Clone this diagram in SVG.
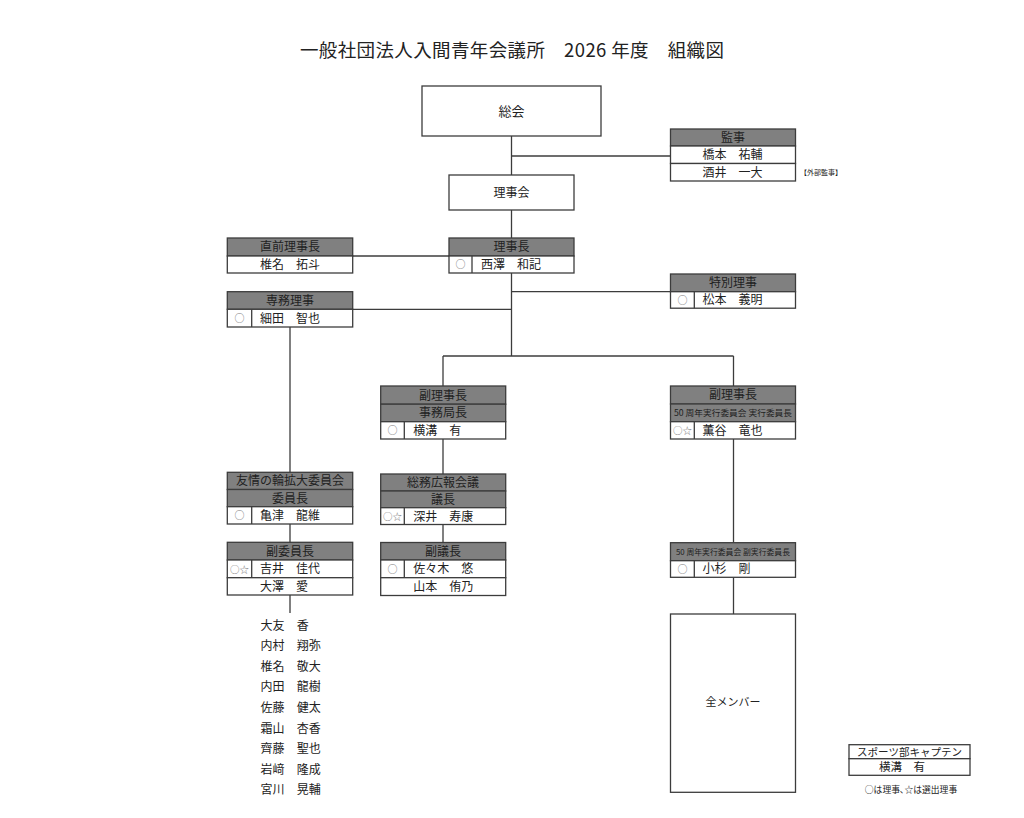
<svg xmlns="http://www.w3.org/2000/svg" width="1024" height="818" viewBox="0 0 1024 818">
<style>
.bg{fill:#fff}
.b{fill:#fff;stroke:#3c3c3c;stroke-width:1.3}
.h{fill:#808080;stroke:#3c3c3c;stroke-width:1.3}
.d{stroke:#3c3c3c;stroke-width:1.3;fill:none}
.t{font-family:"Noto Sans CJK JP","Noto Sans",sans-serif;font-size:12px;fill:#222;text-anchor:middle}
.n{font-family:"Noto Sans CJK JP","Noto Sans",sans-serif;font-size:12px;fill:#222;text-anchor:start}
.m{font-family:"Noto Sans CJK JP","Noto Sans",sans-serif;font-size:10px;fill:#777;text-anchor:middle}
.s{font-family:"Noto Sans CJK JP","Noto Sans",sans-serif;font-size:8.5px;fill:#222;text-anchor:middle}
#connectors line{stroke:#3c3c3c;stroke-width:1.3}
</style>
<rect class="bg" x="0" y="0" width="1024" height="818"/>
<text x="512" y="57" class="t" style="font-size:18.5px" textLength="424" lengthAdjust="spacing">一般社団法人入間青年会議所　2026 年度　組織図</text>

<g id="connectors">
<line x1="511.5" y1="136" x2="511.5" y2="175"/>
<line x1="511.5" y1="156" x2="670.5" y2="156"/>
<line x1="511.5" y1="210" x2="511.5" y2="238"/>
<line x1="352.7" y1="256" x2="449" y2="256"/>
<line x1="511.5" y1="273" x2="511.5" y2="356"/>
<line x1="511.5" y1="291.7" x2="670.5" y2="291.7"/>
<line x1="352.7" y1="309.3" x2="511.5" y2="309.3"/>
<line x1="443" y1="356" x2="733.5" y2="356"/>
<line x1="443" y1="356" x2="443" y2="386"/>
<line x1="733.5" y1="356" x2="733.5" y2="386"/>
<line x1="290" y1="327" x2="290" y2="472.3"/>
<line x1="443" y1="439" x2="443" y2="474"/>
<line x1="443" y1="524.5" x2="443" y2="542.5"/>
<line x1="733.5" y1="439" x2="733.5" y2="542.7"/>
<line x1="733.5" y1="577.3" x2="733.5" y2="614"/>
<line x1="290" y1="524" x2="290" y2="542.3"/>
<line x1="290" y1="595" x2="290" y2="613"/>
</g>

<g id="soukai">
<rect class="b" x="422" y="86" width="179" height="50"/>
<text class="t" x="511.5" y="115.5" style="font-size:13px">総会</text>
</g>

<g id="rijikai">
<rect class="b" x="449" y="175" width="125" height="35"/>
<text class="t" x="511.5" y="197">理事会</text>
</g>

<g id="kanji">
<rect class="h" x="670.5" y="129" width="125" height="17"/>
<rect class="b" x="670.5" y="146" width="125" height="17.5"/>
<rect class="b" x="670.5" y="163.5" width="125" height="17.5"/>
<text class="t" x="733" y="142">監事</text>
<text class="n" x="702.5" y="159">橋本　祐輔</text>
<text class="n" x="702.5" y="176.5">酒井　一大</text>
<text class="t" x="800" y="174.5" style="font-size:7px;text-anchor:start">【外部監事】</text>
</g>

<g id="chokuzen">
<rect class="h" x="227.3" y="238" width="125.4" height="18"/>
<rect class="b" x="227.3" y="256" width="125.4" height="17"/>
<text class="t" x="290" y="251.3">直前理事長</text>
<text class="n" x="260" y="268.8">椎名　拓斗</text>
</g>

<g id="rijicho">
<rect class="h" x="449" y="238" width="125" height="18"/>
<rect class="b" x="449" y="256" width="125" height="17"/>
<line class="d" x1="472" y1="256" x2="472" y2="273"/>
<text class="t" x="511.5" y="251.3">理事長</text>
<text class="m" x="460.5" y="268">○</text>
<text class="n" x="481" y="268.8">西澤　和記</text>
</g>

<g id="tokubetsu">
<rect class="h" x="670.5" y="274" width="125" height="17.7"/>
<rect class="b" x="670.5" y="291.7" width="125" height="16.5"/>
<line class="d" x1="694.3" y1="291.7" x2="694.3" y2="308.2"/>
<text class="t" x="733" y="287.2">特別理事</text>
<text class="m" x="682.4" y="303.5">○</text>
<text class="n" x="702.5" y="304.3">松本　義明</text>
</g>

<g id="senmu">
<rect class="h" x="227.3" y="291.7" width="125.4" height="17.6"/>
<rect class="b" x="227.3" y="309.3" width="125.4" height="17.7"/>
<line class="d" x1="251.7" y1="309.3" x2="251.7" y2="327"/>
<text class="t" x="290" y="304.8">専務理事</text>
<text class="m" x="239.5" y="321.8">○</text>
<text class="n" x="260" y="322.5">細田　智也</text>
</g>

<g id="fukurijicho1">
<rect class="h" x="380.7" y="386" width="125" height="18.2"/>
<rect class="h" x="380.7" y="404.2" width="125" height="17.5"/>
<rect class="b" x="380.7" y="421.7" width="125" height="17.3"/>
<line class="d" x1="404.3" y1="421.7" x2="404.3" y2="439"/>
<text class="t" x="443" y="399.5">副理事長</text>
<text class="t" x="443" y="417.3">事務局長</text>
<text class="m" x="392.5" y="434">○</text>
<text class="n" x="413.3" y="434.7">横溝　有</text>
</g>

<g id="soumu">
<rect class="h" x="380.7" y="474" width="125" height="17"/>
<rect class="h" x="380.7" y="491" width="125" height="16.7"/>
<rect class="b" x="380.7" y="507.7" width="125" height="16.8"/>
<line class="d" x1="404.3" y1="507.7" x2="404.3" y2="524.5"/>
<text class="t" x="443" y="486.8">総務広報会議</text>
<text class="t" x="443" y="503.7">議長</text>
<text class="m" x="392.5" y="520" style="font-size:9.5px">○☆</text>
<text class="n" x="413.3" y="520.5">深井　寿康</text>
</g>

<g id="fukugicho">
<rect class="h" x="380.7" y="542.5" width="125" height="17.5"/>
<rect class="b" x="380.7" y="560" width="125" height="17.7"/>
<rect class="b" x="380.7" y="577.7" width="125" height="17.8"/>
<line class="d" x1="404.3" y1="560" x2="404.3" y2="577.7"/>
<text class="t" x="443" y="555.6">副議長</text>
<text class="m" x="392.5" y="572.5">○</text>
<text class="n" x="413.3" y="573.2">佐々木　悠</text>
<text class="n" x="413.3" y="591">山本　侑乃</text>
</g>

<g id="fukurijicho2">
<rect class="h" x="670.5" y="386" width="125" height="18"/>
<rect class="h" x="670.5" y="404" width="125" height="17.7"/>
<rect class="b" x="670.5" y="421.7" width="125" height="17.3"/>
<line class="d" x1="694.3" y1="421.7" x2="694.3" y2="439"/>
<text class="t" x="733" y="399.4">副理事長</text>
<text class="s" x="733" y="416" textLength="118" lengthAdjust="spacingAndGlyphs">50 周年実行委員会 実行委員長</text>
<text class="m" x="682.4" y="434" style="font-size:9.5px">○☆</text>
<text class="n" x="702.5" y="434.7">薫谷　竜也</text>
</g>

<g id="fukujikko">
<rect class="h" x="670.5" y="542.7" width="125" height="18"/>
<rect class="b" x="670.5" y="560.7" width="125" height="16.6"/>
<line class="d" x1="694.3" y1="560.7" x2="694.3" y2="577.3"/>
<text class="s" x="733" y="554.8" style="font-size:8px" textLength="114" lengthAdjust="spacingAndGlyphs">50 周年実行委員会 副実行委員長</text>
<text class="m" x="682.4" y="572.5">○</text>
<text class="n" x="702.5" y="573.3">小杉　剛</text>
</g>

<g id="zenmember">
<rect class="b" x="670.5" y="614" width="125" height="178.3"/>
<text class="t" x="733" y="705.8" style="font-size:11px">全メンバー</text>
</g>

<g id="yujo">
<rect class="h" x="227.3" y="472.3" width="125.4" height="17.2"/>
<rect class="h" x="227.3" y="489.5" width="125.4" height="17.2"/>
<rect class="b" x="227.3" y="506.7" width="125.4" height="17.3"/>
<line class="d" x1="251.7" y1="506.7" x2="251.7" y2="524"/>
<text class="t" x="290" y="485.3">友情の輪拡大委員会</text>
<text class="t" x="290" y="502.5">委員長</text>
<text class="m" x="239.5" y="519">○</text>
<text class="n" x="260" y="519.7">亀津　龍維</text>
</g>

<g id="fukuiincho">
<rect class="h" x="227.3" y="542.3" width="125.4" height="17.7"/>
<rect class="b" x="227.3" y="560" width="125.4" height="17.7"/>
<rect class="b" x="227.3" y="577.7" width="125.4" height="17.3"/>
<line class="d" x1="251.7" y1="560" x2="251.7" y2="577.7"/>
<text class="t" x="290" y="555.5">副委員長</text>
<text class="m" x="239.5" y="572.5" style="font-size:9.5px">○☆</text>
<text class="n" x="260" y="573.2">吉井　佳代</text>
<text class="n" x="260" y="590.7">大澤　愛</text>
</g>

<g id="members">
<text class="n" x="260.5" y="629.5">大友</text><text class="n" x="296.7" y="629.5">香</text>
<text class="n" x="260.5" y="650.1">内村</text><text class="n" x="296.7" y="650.1">翔弥</text>
<text class="n" x="260.5" y="670.7">椎名</text><text class="n" x="296.7" y="670.7">敬大</text>
<text class="n" x="260.5" y="691.3">内田</text><text class="n" x="296.7" y="691.3">龍樹</text>
<text class="n" x="260.5" y="711.9">佐藤</text><text class="n" x="296.7" y="711.9">健太</text>
<text class="n" x="260.5" y="732.5">霜山</text><text class="n" x="296.7" y="732.5">杏香</text>
<text class="n" x="260.5" y="753.1">齊藤</text><text class="n" x="296.7" y="753.1">聖也</text>
<text class="n" x="260.5" y="773.7">岩﨑</text><text class="n" x="296.7" y="773.7">隆成</text>
<text class="n" x="260.5" y="794.3">宮川</text><text class="n" x="296.7" y="794.3">晃輔</text>
</g>

<g id="sports">
<rect class="b" x="849" y="744.7" width="121" height="14"/>
<rect class="b" x="849" y="758.7" width="121" height="16.6"/>
<text class="t" x="909.5" y="755.5" style="font-size:10.5px">スポーツ部キャプテン</text>
<text class="t" x="902" y="771" style="font-size:11.5px">横溝　有</text>
<text class="t" x="911" y="792.5" style="font-size:8.8px">○は理事､☆は選出理事</text>
</g>
</svg>
